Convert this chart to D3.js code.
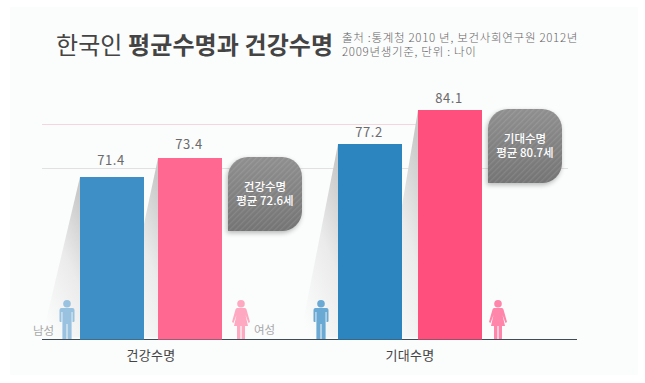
<!DOCTYPE html>
<html>
  <head>
    <meta charset="utf-8" />
    <script src="https://d3js.org/d3.v7.min.js"></script>
    <style>
      body {
        margin: 0;
        background: #fff;
      }
      svg {
        display: block;
      }
      text {
        font-family: "Noto Sans CJK KR", sans-serif;
      }
    </style>
  </head>
  <body>
    <svg id="chart" width="645" height="383"></svg>
    <script>
      const groups = ["건강수명", "기대수명"];
      const maleValues = [71.4, 77.2];
      const femaleValues = [73.4, 84.1];
      const averages = [72.6, 80.7];
      const genderLabels = ["남성", "여성"];
      const gridValues = [72.3, 81.36];
      const titleLight = "한국인 ";
      const titleBold = "평균수명과 건강수명";
      const sourceLines = [
        "출처 :통계청 2010 년, 보건사회연구원 2012년",
        "2009년생기준, 단위 : 나이",
      ];

      const svg = d3.select("#chart");
      const defs = svg.append("defs");

      // the original bars are not drawn to one linear scale, so the y scale
      // has to bend at the values to stay on the picture
      const y = d3
        .scaleLinear()
        .domain([0, 71.4, 73.4, 77.2, 84.1])
        .range([339.5, 177, 158, 144, 110]);

      const groupX = d3.scalePoint().domain(groups).range([151, 410]);
      const barWidth = 64;

      // panel
      svg
        .append("rect")
        .attr("x", 10)
        .attr("y", 7)
        .attr("width", 628)
        .attr("height", 368)
        .attr("fill", "#fbfcfc");

      // gradients for the slanted shadows + callouts
      const slant = defs
        .append("linearGradient")
        .attr("id", "slant")
        .attr("x1", 0.75)
        .attr("y1", 0)
        .attr("x2", 0.25)
        .attr("y2", 1);
      slant.append("stop").attr("offset", 0).attr("stop-color", "#c9c9c9");
      slant.append("stop").attr("offset", 0.45).attr("stop-color", "#ebebeb");
      slant.append("stop").attr("offset", 1).attr("stop-color", "#fbfcfc");

      const boxGrad = defs
        .append("linearGradient")
        .attr("id", "boxGrad")
        .attr("x1", 0)
        .attr("y1", 0)
        .attr("x2", 0)
        .attr("y2", 1);
      boxGrad.append("stop").attr("offset", 0).attr("stop-color", "#8f8f8f");
      boxGrad.append("stop").attr("offset", 1).attr("stop-color", "#747474");

      const hatch = defs
        .append("pattern")
        .attr("id", "hatch")
        .attr("width", 4)
        .attr("height", 4)
        .attr("patternUnits", "userSpaceOnUse")
        .attr("patternTransform", "rotate(45)");
      hatch
        .append("rect")
        .attr("width", 1.3)
        .attr("height", 4)
        .attr("fill", "#fff")
        .attr("opacity", 0.1);

      const blur = defs
        .append("filter")
        .attr("id", "boxShadow")
        .attr("x", "-20%")
        .attr("y", "-20%")
        .attr("width", "140%")
        .attr("height", "140%");
      blur.append("feGaussianBlur").attr("stdDeviation", 2.5);

      // grid lines
      svg
        .selectAll("line.grid")
        .data(gridValues)
        .join("line")
        .attr("class", "grid")
        .attr("x1", 42)
        .attr("x2", (d, i) => (i == 0 ? 568 : 430))
        .attr("y1", (d) => Math.round(y(d)) + 0.5)
        .attr("y2", (d) => Math.round(y(d)) + 0.5)
        .attr("stroke", (d, i) => (i == 0 ? "#e2e0e1" : "#f4d6df"));

      // gap under the value label differs bar by bar in the original
      const labelGap = [12, 9, 7, 7];
      const barData = [];
      groups.forEach((g, i) => {
        barData.push({
          value: maleValues[i],
          x: groupX(g) - 71 - i,
          fill: i == 0 ? "#3d8fc6" : "#2d85c0",
        });
        barData.push({
          value: femaleValues[i],
          x: groupX(g) + 7 + i,
          fill: i == 0 ? "#ff6891" : "#ff4f7d",
        });
      });

      // slanted shadow left of each bar
      svg
        .selectAll("path.slant")
        .data(barData)
        .join("path")
        .attr("class", "slant")
        .attr("fill", "url(#slant)")
        .attr("d", (d) => {
          const top = y(d.value);
          return d3.line()([
            [d.x, top],
            [d.x - 38, y(0) - 2],
            [d.x, y(0) - 2],
          ]);
        });

      // baseline
      svg
        .append("line")
        .attr("x1", 42)
        .attr("x2", 577)
        .attr("y1", y(0))
        .attr("y2", y(0))
        .attr("stroke", "#3f4c57")
        .attr("stroke-width", 1);

      // bars
      svg
        .selectAll("rect.bar")
        .data(barData)
        .join("rect")
        .attr("class", "bar")
        .attr("x", (d) => d.x)
        .attr("y", (d) => y(d.value))
        .attr("width", barWidth)
        .attr("height", (d) => y(0) - y(d.value))
        .attr("fill", (d) => d.fill);

      svg
        .selectAll("text.value")
        .data(barData)
        .join("text")
        .attr("class", "value")
        .attr("x", (d) => d.x + barWidth / 2 - 1)
        .attr("y", (d, i) => y(d.value) - labelGap[i])
        .attr("text-anchor", "middle")
        .attr("font-size", 13)
        .attr("letter-spacing", 0.5)
        .attr("fill", "#6a6a6a")
        .text((d) => d.value.toFixed(1));

      // callouts, square bottom-left corner
      const boxPath = (x, top) => {
        const w = 74,
          h = 74,
          r = 20;
        const p = d3.path();
        p.moveTo(x + r, top);
        p.lineTo(x + w - r, top);
        p.arcTo(x + w, top, x + w, top + r, r);
        p.lineTo(x + w, top + h - r);
        p.arcTo(x + w, top + h, x + w - r, top + h, r);
        p.lineTo(x, top + h);
        p.lineTo(x, top + r);
        p.arcTo(x, top, x + r, top, r);
        p.closePath();
        return p.toString();
      };
      const boxes = svg
        .selectAll("g.box")
        .data(groups)
        .join("g")
        .attr("class", "box")
        .attr("transform", (d, i) =>
          i == 0 ? "translate(228,157)" : "translate(488,109)"
        );
      boxes
        .append("path")
        .attr("d", boxPath(0, 0))
        .attr("fill", "#000")
        .attr("opacity", 0.28)
        .attr("transform", "translate(-1,2)")
        .attr("filter", "url(#boxShadow)");
      boxes.append("path").attr("d", boxPath(0, 0)).attr("fill", "url(#boxGrad)");
      boxes.append("path").attr("d", boxPath(0, 0)).attr("fill", "url(#hatch)");
      const boxText = boxes
        .append("text")
        .attr("text-anchor", "middle")
        .attr("font-size", 11.5)
        .attr("font-weight", 500)
        .attr("fill", "#fff");
      boxText
        .append("tspan")
        .attr("x", 37)
        .attr("y", 34)
        .text((d) => d);
      boxText
        .append("tspan")
        .attr("x", 37)
        .attr("y", 48)
        .text((d, i) => "평균 " + averages[i] + "세");

      // people icons, drawn 0..39 tall down to the baseline
      const manPath =
        "M-5.5,8 H5.5 Q7.5,8 7.5,10 V21 Q7.5,22 6.5,22 H5.5 V12 H4.6 V39 H0.5 V24 H-0.5 V39 H-4.6 V12 H-5.5 V22 H-6.5 Q-7.5,22 -7.5,21 V10 Q-7.5,8 -5.5,8 Z";
      const womanPath =
        "M-4,8 H4 Q5,8 5.5,9.5 L9,22 L7.5,23 L4.5,15 L7,26 H4 V39 H0.6 V26 H-0.6 V39 H-4 V26 H-7 L-4.5,15 L-7.5,23 L-9,22 L-5.5,9.5 Q-5,8 -4,8 Z";
      const people = [
        { x: 67, d: manPath, fill: "#98c2e0" },
        { x: 241, d: womanPath, fill: "#ffa8c1" },
        { x: 321, d: manPath, fill: "#6aa9d4" },
        { x: 498, d: womanPath, fill: "#ff85aa" },
      ];
      const icons = svg
        .selectAll("g.person")
        .data(people)
        .join("g")
        .attr("class", "person")
        .attr("transform", (d) => "translate(" + d.x + ",300)");
      icons
        .append("circle")
        .attr("cx", 0)
        .attr("cy", 3.8)
        .attr("r", 3.8)
        .attr("fill", (d) => d.fill);
      icons
        .append("path")
        .attr("d", (d) => d.d)
        .attr("fill", (d) => d.fill);

      // gender labels
      svg
        .selectAll("text.gender")
        .data(genderLabels)
        .join("text")
        .attr("class", "gender")
        .attr("x", (d, i) => (i == 0 ? 33 : 254))
        .attr("y", (d, i) => (i == 0 ? 335 : 334))
        .attr("font-size", 11.5)
        .attr("fill", "#a8a8a8")
        .text((d) => d);

      // category labels
      svg
        .selectAll("text.cat")
        .data(groups)
        .join("text")
        .attr("class", "cat")
        .attr("x", (d) => groupX(d))
        .attr("y", 360)
        .attr("text-anchor", "middle")
        .attr("font-size", 13)
        .attr("letter-spacing", 0.3)
        .attr("fill", "#444")
        .text((d) => d);

      // title
      const title = svg
        .append("text")
        .attr("x", 56)
        .attr("y", 54)
        .attr("font-size", 24)
        .attr("letter-spacing", 0.1)
        .attr("fill", "#444");
      title.append("tspan").text(titleLight);
      title.append("tspan").attr("font-weight", 700).text(titleBold);

      const source = svg
        .append("text")
        .attr("class", "source")
        .attr("font-size", 11.5)
        .attr("font-weight", 300)
        .attr("letter-spacing", 0.7)
        .attr("fill", "#666");
      source
        .selectAll("tspan")
        .data(sourceLines)
        .join("tspan")
        .attr("x", 342)
        .attr("y", (d, i) => 42 + i * 14)
        .text((d) => d);
    </script>
  </body>
</html>
